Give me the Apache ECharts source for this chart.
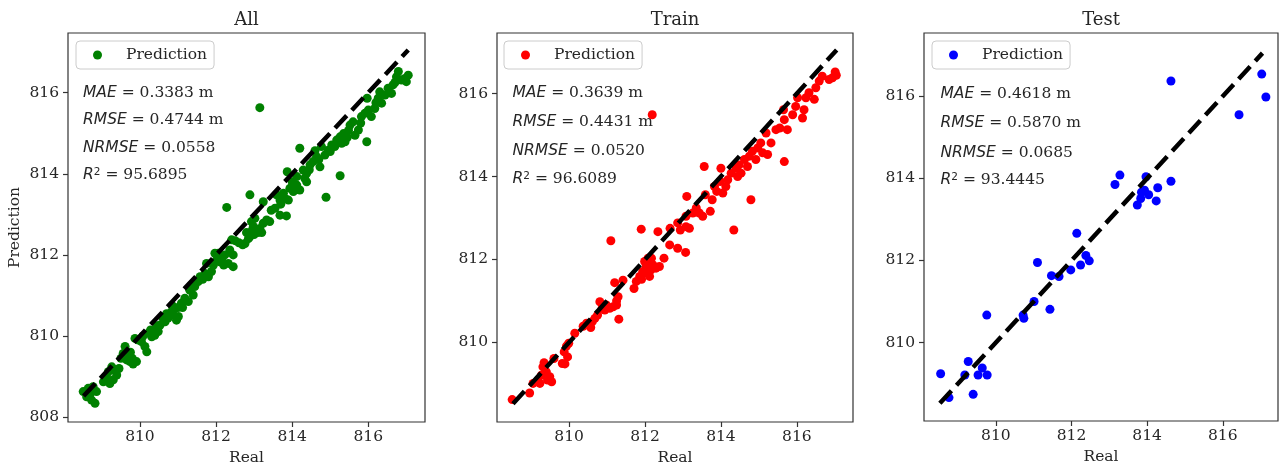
<!DOCTYPE html>
<html>
<head>
<meta charset="utf-8">
<title>Real vs Prediction</title>
<script src="https://cdn.jsdelivr.net/npm/echarts@6/dist/echarts.min.js"></script>
<style>
  html, body { margin: 0; padding: 0; background: #fff; }
  #main { width: 1280px; height: 466px; }
</style>
</head>
<body>
<div id="main"></div>
<script>
// ---- data ----
var allReal = [808.51, 808.60, 808.69, 808.73, 808.82, 808.77, 808.86, 808.64, 809.04, 809.12, 809.17, 809.26, 809.34, 809.39, 809.30, 809.21,
  809.61, 809.56, 809.69, 809.74, 809.82, 809.91, 809.65, 809.87, 809.96, 810.04, 810.13, 810.18, 810.22, 810.31, 810.39, 810.48,
  810.53, 810.66, 810.74, 810.83, 810.92, 810.96, 811.01, 810.88, 811.09, 811.18, 811.27, 811.31, 811.40, 811.44, 811.53, 811.58,
  811.71, 811.80, 811.88, 811.93, 812.01, 812.06, 812.15, 812.23, 812.32, 812.36, 811.75, 811.97, 812.10, 812.45, 812.41, 812.45,
  812.28, 812.76, 812.89, 812.98, 813.06, 812.93, 813.02, 813.15, 813.24, 813.33, 813.41, 812.89, 813.24, 813.55, 813.68, 813.85,
  813.59, 813.68, 813.77, 813.81, 813.90, 813.87, 813.94, 814.12, 814.20, 814.12, 814.03, 814.38, 814.20, 814.29, 814.38, 814.47,
  814.55, 814.60, 814.64, 814.73, 814.77, 814.89, 814.33, 814.86, 814.95, 815.04, 815.12, 815.17, 815.26, 815.35, 815.26, 815.39,
  815.48, 815.52, 815.60, 815.65, 815.74, 815.96, 815.82, 815.91, 816.00, 815.97, 816.08, 816.17, 816.26, 816.30, 816.35, 816.44,
  816.52, 816.61, 816.65, 816.74, 816.79, 816.87, 816.96, 817.05, 817.00, 813.15, 812.70, 812.85, 813.00, 813.10, 812.95, 810.85,
  811.00, 809.50, 809.75, 810.60, 809.10, 809.45, 809.80, 810.08, 810.28, 810.45, 810.70, 811.12, 811.35, 811.65, 812.20, 812.50,
  812.60, 812.80, 813.20, 813.45, 813.70, 814.00, 814.45, 814.70, 815.00, 815.30, 815.45, 815.80, 816.20, 816.55, 816.70];
var allPred = [808.63, 808.50, 808.57, 808.42, 808.34, 808.75, 808.63, 808.71, 808.87, 809.00, 809.12, 809.24, 809.16, 809.04, 808.92, 808.83,
  809.74, 809.57, 809.53, 809.37, 809.31, 809.37, 809.41, 809.94, 809.90, 809.86, 809.74, 809.61, 810.07, 809.98, 810.02, 810.11,
  810.27, 810.35, 810.44, 810.60, 810.68, 810.39, 810.48, 810.52, 810.81, 810.93, 810.85, 811.13, 811.01, 811.22, 811.34, 811.46,
  811.54, 811.46, 811.59, 811.75, 811.87, 812.04, 811.91, 812.00, 811.79, 812.12, 811.79, 812.04, 811.83, 812.00, 812.37, 811.71,
  813.17, 812.28, 812.45, 812.70, 812.61, 812.82, 812.90, 812.65, 812.78, 812.86, 812.82, 813.48, 813.31, 813.15, 812.98, 812.96,
  813.48, 813.35, 813.52, 813.39, 813.35, 814.05, 813.64, 813.72, 813.60, 813.93, 813.56, 813.80, 814.63, 814.09, 814.01, 814.22,
  814.30, 814.57, 814.42, 814.17, 814.67, 813.42, 813.89, 814.46, 814.58, 814.71, 814.67, 814.83, 814.91, 814.99, 813.95, 814.79,
  815.07, 815.20, 815.28, 814.95, 815.08, 814.79, 815.41, 815.49, 815.57, 815.86, 815.41, 815.61, 815.86, 816.02, 815.74, 815.94,
  816.11, 815.98, 816.19, 816.39, 816.52, 816.31, 816.35, 816.43, 816.27, 815.63, 812.25, 812.40, 812.50, 812.55, 812.60, 810.75,
  810.70, 809.45, 809.60, 810.45, 808.95, 809.20, 809.45, 810.00, 810.15, 810.25, 810.55, 810.70, 811.25, 811.40, 811.75, 812.35,
  812.30, 812.55, 812.55, 813.10, 813.25, 813.80, 814.10, 814.35, 814.55, 814.75, 814.90, 815.25, 815.75, 816.00, 816.25];

var trainReal = [808.50, 808.96, 809.05, 809.18, 809.27, 809.31, 809.34, 809.40, 809.49, 809.54, 809.43, 809.23, 809.60, 809.82, 809.89, 809.87,
  809.93, 809.99, 809.96, 810.15, 810.37, 810.46, 810.57, 810.61, 810.68, 810.75, 810.81, 810.87, 810.94, 810.98, 811.07, 811.16,
  811.25, 811.29, 811.25, 811.31, 811.20, 811.42, 811.71, 811.91, 811.99, 812.08, 812.04, 812.17, 811.10, 811.90, 811.77, 811.86,
  811.94, 812.03, 812.08, 812.12, 812.16, 812.21, 812.29, 812.38, 811.99, 812.34, 812.50, 812.65, 812.66, 812.86, 812.86, 812.93,
  813.07, 813.08, 813.17, 813.10, 813.08, 813.26, 813.35, 813.43, 813.52, 813.59, 813.72, 813.77, 813.56, 813.83, 813.89, 813.98,
  814.00, 814.05, 814.13, 814.18, 814.27, 814.34, 814.40, 814.44, 814.48, 814.53, 814.62, 814.70, 814.79, 814.75, 814.83, 814.92,
  814.97, 815.05, 815.10, 815.19, 815.23, 815.32, 815.45, 815.55, 815.65, 815.67, 815.67, 815.75, 815.89, 815.97, 816.02, 816.15,
  816.19, 816.24, 816.32, 816.46, 816.50, 816.59, 816.67, 816.85, 816.94, 817.01, 817.04, 812.19];
var trainPred = [808.62, 808.78, 809.01, 809.09, 809.21, 809.41, 809.51, 809.29, 809.17, 809.05, 809.09, 809.01, 809.61, 809.49, 809.48, 809.77,
  809.91, 809.98, 809.65, 810.22, 810.39, 810.46, 810.36, 810.50, 810.58, 810.66, 810.98, 810.82, 810.78, 810.90, 810.82, 810.86,
  810.90, 811.10, 811.00, 810.56, 811.44, 811.50, 811.30, 811.52, 811.67, 811.75, 811.87, 812.03, 812.45, 812.73, 811.47, 811.59,
  811.71, 811.83, 812.03, 811.59, 811.75, 811.87, 811.79, 811.83, 811.95, 812.67, 812.03, 812.35, 812.75, 812.27, 812.88, 812.71,
  812.17, 812.79, 812.75, 813.52, 813.04, 813.12, 813.24, 813.12, 813.04, 813.56, 813.16, 813.44, 814.24, 813.76, 813.64, 813.88,
  814.20, 813.60, 813.76, 813.92, 814.08, 812.71, 814.20, 814.00, 814.28, 814.08, 814.41, 814.24, 813.44, 814.49, 814.61, 814.41,
  814.69, 814.81, 814.57, 815.05, 814.53, 814.81, 815.13, 815.17, 815.61, 814.36, 815.37, 815.13, 815.49, 815.69, 815.90, 815.41,
  815.61, 815.90, 816.02, 815.86, 816.14, 816.30, 816.42, 816.34, 816.38, 816.52, 816.44, 815.49];

var testReal = [808.54, 808.76, 809.18, 809.27, 809.40, 809.53, 809.64, 809.77, 809.76, 810.72, 810.74, 811.01, 811.10, 811.43, 811.47, 811.67,
  811.98, 812.14, 812.24, 812.38, 812.47, 813.15, 813.28, 813.74, 813.83, 813.85, 813.93, 813.97, 814.04, 814.24, 814.28, 814.63,
  814.63, 816.43, 817.03, 817.14];
var testPred = [809.24, 808.66, 809.21, 809.54, 808.74, 809.21, 809.38, 809.21, 810.67, 810.67, 810.59, 811.00, 811.95, 810.81, 811.63, 811.61,
  811.77, 812.66, 811.89, 812.12, 811.99, 813.85, 814.08, 813.35, 813.51, 813.66, 813.71, 814.04, 813.60, 813.45, 813.77, 813.93,
  816.37, 815.55, 816.54, 815.98];

var idealLine = [808.52, 817.05];
var xTicks = [810, 812, 814, 816];
var yTicksAll = [808, 810, 812, 814, 816];
var yTicks = [810, 812, 814, 816];

var statNames = ['MAE', 'RMSE', 'NRMSE', 'R2'];
var allStats = ['0.3383 m', '0.4744 m', '0.0558', '95.6895'];
var trainStats = ['0.3639 m', '0.4431 m', '0.0520', '96.6089'];
var testStats = ['0.4618 m', '0.5870 m', '0.0685', '93.4445'];

// ---- layout ----
var serif = 'DejaVu Serif';
var ink = '#262626';
var panels = [
  { title: 'All', color: '#008000', real: allReal, pred: allPred, stats: allStats, yTicks: yTicksAll,
    grid: { left: 68, top: 33, width: 357, height: 389 }, x: [808.11, 817.49], y: [807.88, 817.47],
    textLeft: 83, textY: [92.7, 120, 148.3, 175], legendLeft: 76 },
  { title: 'Train', color: '#ff0000', real: trainReal, pred: trainPred, stats: trainStats, yTicks: yTicks,
    grid: { left: 497, top: 33, width: 356, height: 389 }, x: [808.1, 817.48], y: [808.08, 817.46],
    textLeft: 512.5, textY: [92.7, 121.7, 150.7, 179], legendLeft: 504 },
  { title: 'Test', color: '#0000ff', real: testReal, pred: testPred, stats: testStats, yTicks: yTicks,
    grid: { left: 924, top: 33, width: 354, height: 388 }, x: [808.1, 817.46], y: [808.09, 817.54],
    textLeft: 940.5, textY: [94, 123.3, 152.7, 180], legendLeft: 932 }
];

function statLine(name, val) {
  if (name === 'R2') return '{i|R}{sup|2} = ' + val;
  return '{i|' + name + '} = ' + val;
}

var graphics = [];
panels.forEach(function (p) {
  graphics.push({
    type: 'text', x: p.grid.left + p.grid.width / 2, y: 20, silent: true,
    style: { text: p.title, fill: ink, fontFamily: serif, fontSize: 18, align: 'center', verticalAlign: 'middle' }
  });
  statNames.forEach(function (n, i) {
    graphics.push({
      type: 'text', x: p.textLeft, y: p.textY[i], silent: true,
      style: {
        text: statLine(n, p.stats[i]), fill: ink, fontFamily: serif, fontSize: 15.5, verticalAlign: 'middle',
        rich: {
          i: { fontFamily: 'DejaVu Sans', fontStyle: 'italic', fontSize: 15.5, fill: ink },
          sup: { fontFamily: 'DejaVu Sans', fontSize: 10.5, fill: ink, verticalAlign: 'top' }
        }
      }
    });
  });
});

var chart = echarts.init(document.getElementById('main'));
var option = {
  animation: false,
  backgroundColor: '#fff',
  grid: panels.map(function (p) {
    return { left: p.grid.left, top: p.grid.top, width: p.grid.width, height: p.grid.height,
      show: true, borderColor: '#333', borderWidth: 1.2, backgroundColor: 'transparent',
      containLabel: false, outerBoundsMode: 'none' };
  }),
  xAxis: panels.map(function (p, k) {
    return {
      gridIndex: k, type: 'value', min: p.x[0], max: p.x[1],
      name: 'Real', nameLocation: 'middle', nameGap: 26,
      nameTextStyle: { fontFamily: serif, fontSize: 15.5, color: ink },
      axisLine: { show: false },
      axisTick: { show: true, inside: false, length: 5, customValues: xTicks, lineStyle: { color: '#333', width: 1.2 } },
      axisLabel: { customValues: xTicks, margin: 7, fontFamily: serif, fontSize: 15.5, color: ink },
      splitLine: { show: false }
    };
  }),
  yAxis: panels.map(function (p, k) {
    return {
      gridIndex: k, type: 'value', min: p.y[0], max: p.y[1],
      name: k === 0 ? 'Prediction' : '', nameLocation: 'middle', nameGap: 45,
      nameTextStyle: { fontFamily: serif, fontSize: 15.5, color: ink },
      axisLine: { show: false },
      axisTick: { show: true, inside: false, length: 5, customValues: p.yTicks, lineStyle: { color: '#333', width: 1.2 } },
      axisLabel: { customValues: p.yTicks, margin: 9, fontFamily: serif, fontSize: 15.5, color: ink },
      splitLine: { show: false }
    };
  }),
  legend: panels.map(function (p) {
    return {
      data: [p.title], left: p.legendLeft, top: 41, orient: 'horizontal',
      icon: 'circle', itemWidth: 9, itemHeight: 9, selectedMode: false,
      formatter: function () { return 'Prediction'; },
      padding: [6, 7, 6, 17], borderColor: '#cccccc', borderWidth: 1, borderRadius: 4,
      backgroundColor: 'rgba(255,255,255,0.8)',
      textStyle: { fontFamily: serif, fontSize: 15.5, color: ink, padding: [0, 0, 0, 19] }
    };
  }),
  graphic: graphics,
  series: []
};

panels.forEach(function (p, k) {
  option.series.push({
    name: p.title, type: 'scatter', xAxisIndex: k, yAxisIndex: k, z: 2,
    data: p.real.map(function (v, i) { return [v, p.pred[i]]; }),
    symbolSize: 9, itemStyle: { color: p.color, opacity: 1 }, emphasis: { disabled: true }
  });
  option.series.push({
    name: 'ideal' + k, type: 'line', xAxisIndex: k, yAxisIndex: k, z: 3, silent: true,
    data: [[idealLine[0], idealLine[0]], [idealLine[1], idealLine[1]]],
    symbol: 'none', lineStyle: { color: '#000', width: 4.5, type: [17, 7.5] }
  });
});

chart.setOption(option);
</script>
</body>
</html>
